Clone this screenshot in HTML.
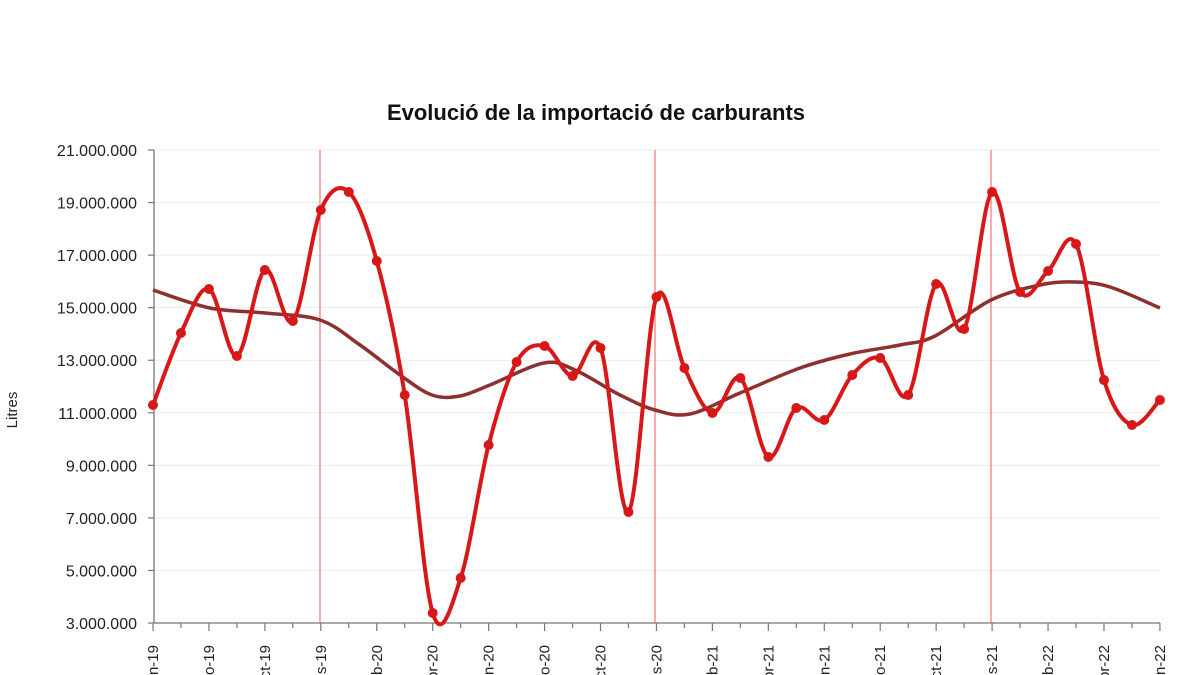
<!DOCTYPE html>
<html><head><meta charset="utf-8"><style>
html,body{margin:0;padding:0;background:#fff;}
svg{display:block;font-family:"Liberation Sans",sans-serif;}
</style></head><body>
<svg id="s" width="1200" height="675" viewBox="0 0 1200 675" xmlns="http://www.w3.org/2000/svg">
<text x="596" y="120" text-anchor="middle" font-size="22" font-weight="bold" fill="#111">Evolució de la importació de carburants</text>
<g id="grid" stroke="#ececec" stroke-width="1"></g>
<g stroke="#f08080" stroke-width="1.3">
<line x1="320" y1="150" x2="320" y2="623"/><line x1="655" y1="150" x2="655" y2="623"/><line x1="991" y1="150" x2="991" y2="623"/>
</g>
<g id="ylab" font-size="16" fill="#222" text-anchor="end"></g>
<g id="xlab" font-size="15" fill="#222"></g>
<g id="ticks" stroke="#777" stroke-width="1.2"></g>
<line x1="154" y1="150" x2="154" y2="623" stroke="#777" stroke-width="1.3"/>
<line x1="154" y1="623" x2="1160" y2="623" stroke="#777" stroke-width="1.3"/>
<text transform="translate(17,410) rotate(-90)" text-anchor="middle" font-size="15" fill="#222">Litres</text>
<path id="trend" fill="none" stroke="#8e3030" stroke-width="3.5"/>
<path id="main" fill="none" stroke="#d81818" stroke-width="4"/>
<g id="dots" fill="#d81818"></g>
</svg>
<script>
var NS="http://www.w3.org/2000/svg";
function el(p,t,a,txt){var e=document.createElementNS(NS,t);for(var k in a)e.setAttribute(k,a[k]);if(txt)e.textContent=txt;document.getElementById(p).appendChild(e);}
for(var i=0;i<10;i++){var y=150+i*52.56;var v=21-2*i;
 el("grid","line",{x1:154,y1:y,x2:1160,y2:y});
 el("ylab","text",{x:137,y:y+6},v+".000.000");
 el("ticks","line",{x1:148,y1:y,x2:154,y2:y});}
for(var m=0;m<=36;m++){var x=153+m*27.97;el("ticks","line",{x1:x,y1:623,x2:x,y2:(m%2==0?631:628)});}
var L=["Jun-19","Ago-19","Oct-19","Des-19","Feb-20","Abr-20","Jun-20","Ago-20","Oct-20","Des-20","Feb-21","Abr-21","Jun-21","Ago-21","Oct-21","Des-21","Feb-22","Abr-22","Jun-22"];
L.forEach(function(t,i){var x=153+i*55.94+5;el("xlab","text",{transform:"translate("+x+",645) rotate(-90)","text-anchor":"end"},t);});
var ys=[405,333,289,356,270,321,210,192,261,395,613,578,445,362,346,376,348,512,297,368,413,378,457,408,420,375,358,395,284,329,192,292,271,244,380,425,400];
var P=ys.map(function(y,i){return [153+i*27.97,y];});
var T=[[153,290],[210,308],[265,313],[320,320],[360,345],[400,375],[432,395],[460,396],[490,385],[544,363],[575,370],[620,395],[655,410],[690,414],[740,393],[800,368],[850,354],[900,345],[935,336],[991,300],[1040,285],[1075,282],[1110,287],[1160,308]];
function cr(p){var d="M"+p[0][0]+","+p[0][1];for(var i=0;i<p.length-1;i++){var a=p[Math.max(0,i-1)],b=p[i],c=p[i+1],e=p[Math.min(p.length-1,i+2)];
 d+=" C"+(b[0]+(c[0]-a[0])/6)+","+(b[1]+(c[1]-a[1])/6)+" "+(c[0]-(e[0]-b[0])/6)+","+(c[1]-(e[1]-b[1])/6)+" "+c[0]+","+c[1];}return d;}
document.getElementById("main").setAttribute("d",cr(P));
document.getElementById("trend").setAttribute("d",cr(T));
P.forEach(function(p){el("dots","circle",{cx:p[0],cy:p[1],r:5});});
</script>
</body></html>
